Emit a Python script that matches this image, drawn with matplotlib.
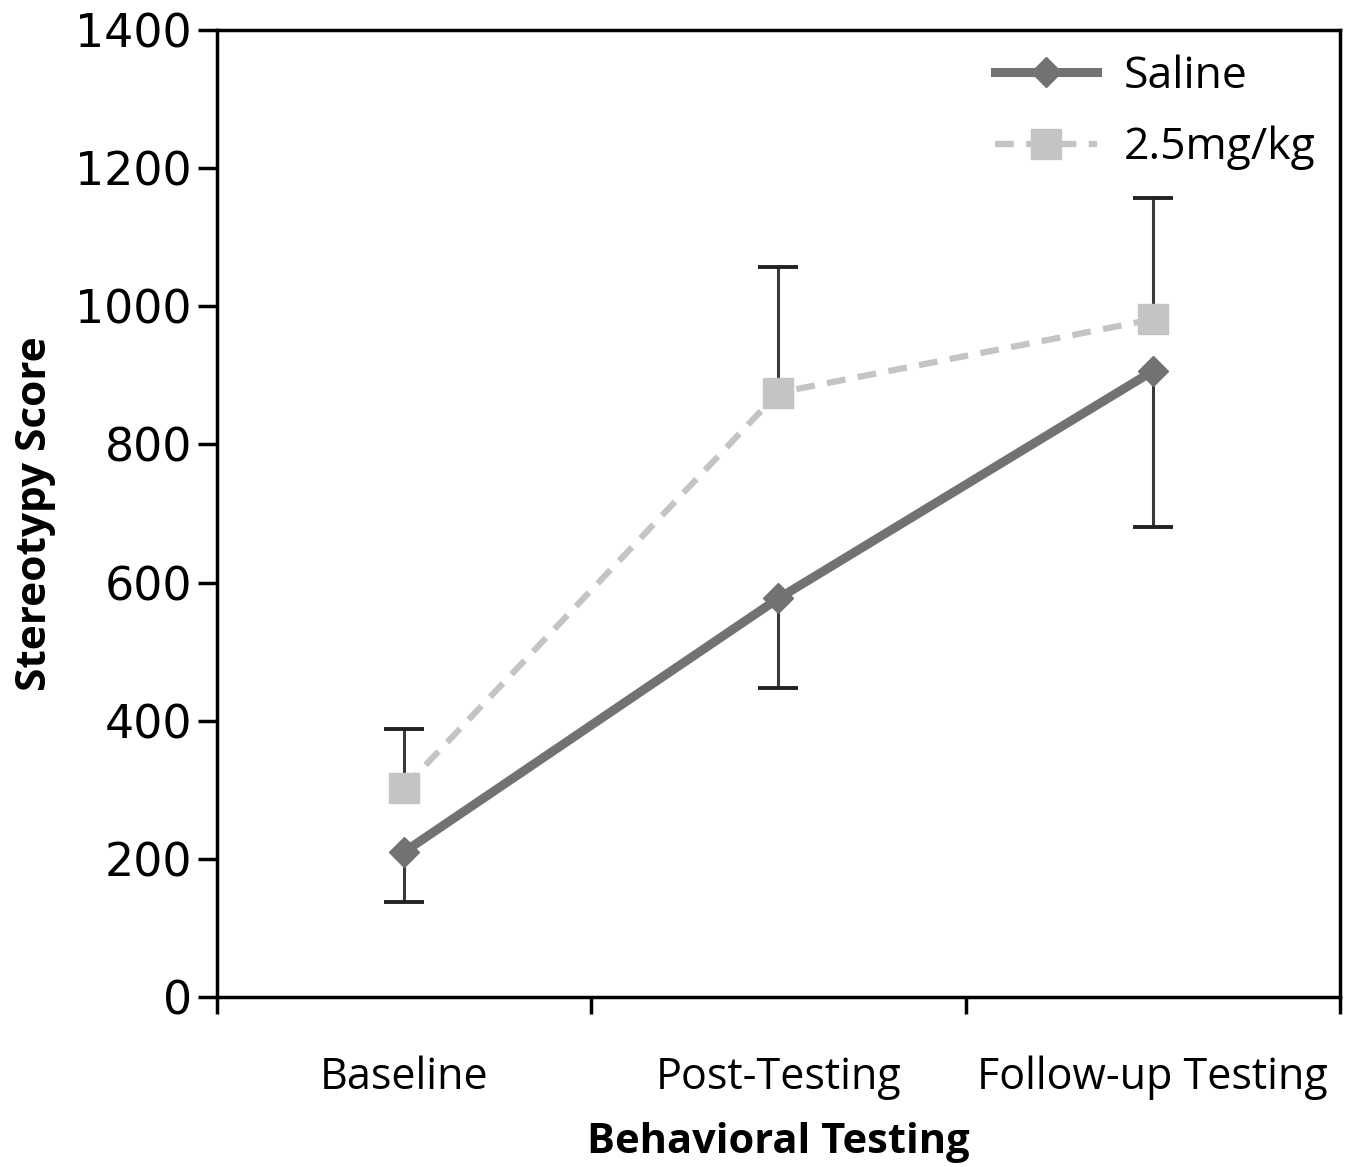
import matplotlib
matplotlib.use("Agg")
import matplotlib.pyplot as plt

categories = ["Baseline", "Post-Testing", "Follow-up Testing"]
saline = [210, 577, 906]
saline_err = [72, 130, 225]      # drawn downwards
dose = [303, 875, 981]
dose_err = [85, 182, 176]        # drawn upwards

x = [0.5, 1.5, 2.5]

fig = plt.figure(figsize=(13.52, 11.67), dpi=100)
ax = fig.add_axes([0.1605, 0.1457, 0.8305, 0.8286])

# one-sided error bars: saline down, 2.5mg/kg up
sal_low = [v - e for v, e in zip(saline, saline_err)]
dose_high = [v + e for v, e in zip(dose, dose_err)]
ax.vlines(x, sal_low, saline, color="#3a3a3a", linewidth=2.2, zorder=2)
ax.vlines(x, dose, dose_high, color="#3a3a3a", linewidth=2.2, zorder=2)
ax.plot(x, sal_low, linestyle="none", marker="_", markersize=29,
        markeredgewidth=2.8, color="#222222", zorder=2)
ax.plot(x, dose_high, linestyle="none", marker="_", markersize=29,
        markeredgewidth=2.8, color="#222222", zorder=2)

ax.plot(x, saline, color="#727272", linewidth=6.5, marker="D", markersize=15,
        label="Saline", zorder=3)
ax.plot(x, dose, color="#c4c4c4", linewidth=4.5, linestyle=(0, (3, 2)),
        marker="s", markersize=21, label="2.5mg/kg", zorder=3)

ax.set_xlim(0, 3)
ax.set_ylim(0, 1400)
ax.set_yticks(range(0, 1401, 200))
ax.set_xticks([0, 1, 2, 3])
ax.set_xticklabels([])
ax.set_xticks(x, minor=True)
ax.set_xticklabels(categories, minor=True, fontsize=31, family="Open Sans")
ax.tick_params(axis="x", which="minor", length=0, pad=42)
ax.tick_params(axis="x", which="major", length=12, width=2.5, direction="out")
ax.tick_params(axis="y", length=14, width=2.5, direction="out", labelsize=33, pad=4)

for s in ax.spines.values():
    s.set_linewidth(2.5)

ax.set_xlabel("Behavioral Testing", fontsize=30, fontweight="bold",
              family="Open Sans", labelpad=16)
ax.set_ylabel("Stereotypy Score", fontsize=30.5, fontweight="bold",
              family="Open Sans", labelpad=14)

ax.legend(loc="upper right", frameon=False,
          prop={"family": "Open Sans", "size": 32},
          handlelength=2.3, handletextpad=0.6, borderaxespad=0.15,
          labelspacing=0.6)

fig.savefig("out.png", dpi=100)
